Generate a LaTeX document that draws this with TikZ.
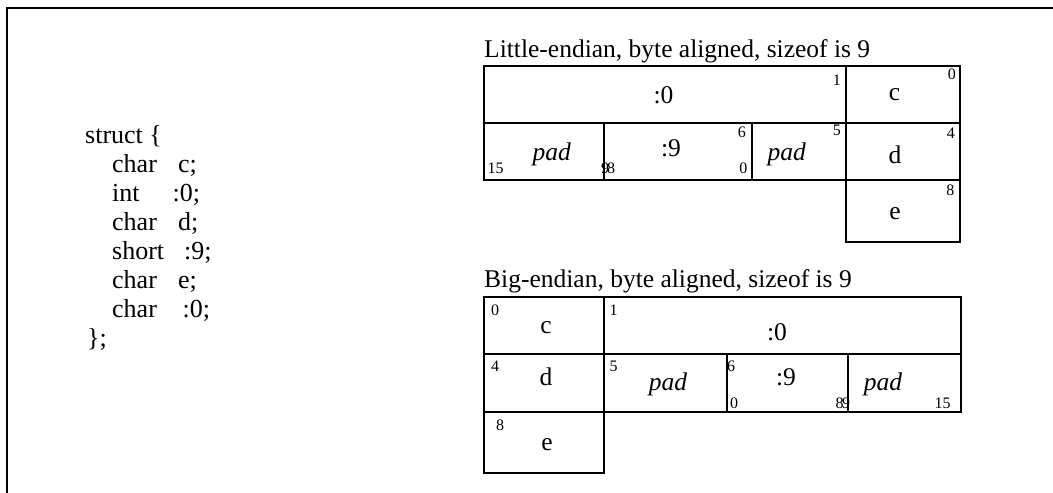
\documentclass[tikz,border=0pt]{standalone}
\usepackage{fontspec}
\setmainfont{Liberation Serif}
\begin{document}
\begin{tikzpicture}[x=1pt,y=-1pt,
  cell/.style={draw,line width=2pt,inner sep=0pt,outer sep=0pt,rectangle},
  big/.style={inner sep=0pt,anchor=base,font=\fontsize{25.5}{30}\selectfont},
  title/.style={inner sep=0pt,anchor=base west,font=\fontsize{25.5}{30}\selectfont},
  code/.style={inner sep=0pt,anchor=base west,font=\fontsize{26}{30}\selectfont},
  sm/.style={inner sep=0pt,font=\fontsize{16}{18}\selectfont},
  frame/.style={line width=2pt}]
\useasboundingbox (0,0) rectangle (1053,493);
% frame
\coordinate (fa) at (7,493);
\coordinate (fb) at (7,7.5);
\coordinate (fc) at (1053,7.5);
\draw[frame] (fa) -- (fb) -- (fc);
% struct text
\node[code] (s0) at (85,143) {struct \{};
\node[code] (s1) at (112,172) {\makebox[66pt][l]{char}c;};
\node[code] (s2) at (112,201) {\makebox[60.5pt][l]{int}:0;};
\node[code] (s3) at (112,230) {\makebox[66pt][l]{char}d;};
\node[code] (s4) at (112,259) {\makebox[72pt][l]{short}:9;};
\node[code] (s5) at (112,288) {\makebox[66pt][l]{char}e;};
\node[code] (s6) at (112,317) {\makebox[70.5pt][l]{char}:0;};
\node[code] (s7) at (87,346) {\};};
% titles
\node[title] (tle) at (484,57) {Little-endian, byte aligned, sizeof is 9};
\node[title] (tbe) at (484,287) {Big-endian, byte aligned, sizeof is 9};
% little-endian cells
\node[cell,minimum width=362pt,minimum height=56.7pt] (le0) at (665,94.35) {};
\node[cell,minimum width=114pt,minimum height=56.7pt] (lec) at (903,94.35) {};
\node[cell,minimum width=120pt,minimum height=57.3pt] (lep1) at (544,151.35) {};
\node[cell,minimum width=147.7pt,minimum height=57.3pt] (le9) at (677.85,151.35) {};
\node[cell,minimum width=94.3pt,minimum height=57.3pt] (lep2) at (798.85,151.35) {};
\node[cell,minimum width=114pt,minimum height=57.3pt] (led) at (903,151.35) {};
\node[cell,minimum width=114pt,minimum height=61.7pt] (lee) at (903,210.85) {};
% little-endian labels
\node[big] (l0t) at (663.5,103.3) {:0};
\node[big] (lct) at (894.5,100.5) {c};
\node[big] (lp1t) at (551.7,160) {\itshape pad};
\node[big] (l9t) at (671,156.7) {:9};
\node[big] (lp2t) at (786.7,160) {\itshape pad};
\node[big] (ldt) at (895,163.3) {d};
\node[big] (let) at (895,219.3) {e};
\node[sm,anchor=base east] (ln1) at (841,85) {1};
\node[sm,anchor=base east] (ln0) at (956,79.3) {0};
\node[sm,anchor=base west] (ln15) at (487.5,173.3) {15};
\node[sm,anchor=base west] (ln9) at (601,173.3) {9};
\node[sm,anchor=base west] (ln8) at (607,173.3) {8};
\node[sm,anchor=base east] (ln6) at (746,137.3) {6};
\node[sm,anchor=base east] (ln0b) at (747.5,173.3) {0};
\node[sm,anchor=base east] (ln5) at (841,135) {5};
\node[sm,anchor=base east] (ln4) at (955,138.3) {4};
\node[sm,anchor=base east] (ln8b) at (954.5,195) {8};
% big-endian cells
\node[cell,minimum width=120pt,minimum height=57pt] (bec) at (544,325.8) {};
\node[cell,minimum width=356.7pt,minimum height=57pt] (be0) at (782.35,325.8) {};
\node[cell,minimum width=120pt,minimum height=57.4pt] (bed) at (544,383) {};
\node[cell,minimum width=122.7pt,minimum height=57.4pt] (bep1) at (665.35,383) {};
\node[cell,minimum width=121.3pt,minimum height=57.4pt] (be9) at (787.35,383) {};
\node[cell,minimum width=112.7pt,minimum height=57.4pt] (bep2) at (904.35,383) {};
\node[cell,minimum width=120pt,minimum height=61pt] (bee) at (544,442.2) {};
% big-endian labels
\node[big] (bct) at (546,333.3) {c};
\node[big] (b0t) at (777,340) {:0};
\node[big] (bdt) at (546,385.5) {d};
\node[big] (bp1t) at (668,390) {\itshape pad};
\node[big] (b9t) at (786,385) {:9};
\node[big] (bp2t) at (883,390) {\itshape pad};
\node[big] (bet) at (547,450) {e};
\node[sm,anchor=base west] (bn0) at (491,315) {0};
\node[sm,anchor=base west] (bn1) at (609.5,315) {1};
\node[sm,anchor=base west] (bn4) at (491,371.7) {4};
\node[sm,anchor=base west] (bn5) at (609.5,371.7) {5};
\node[sm,anchor=base west] (bn6) at (727,371.7) {6};
\node[sm,anchor=base west] (bn0b) at (730,408.3) {0};
\node[sm,anchor=base west] (bn8) at (835.5,408.3) {8};
\node[sm,anchor=base west] (bn9) at (842,408.3) {9};
\node[sm,anchor=base west] (bn15) at (934.5,408.3) {15};
\node[sm,anchor=base west] (bn8b) at (496,430) {8};
\end{tikzpicture}
\end{document}
